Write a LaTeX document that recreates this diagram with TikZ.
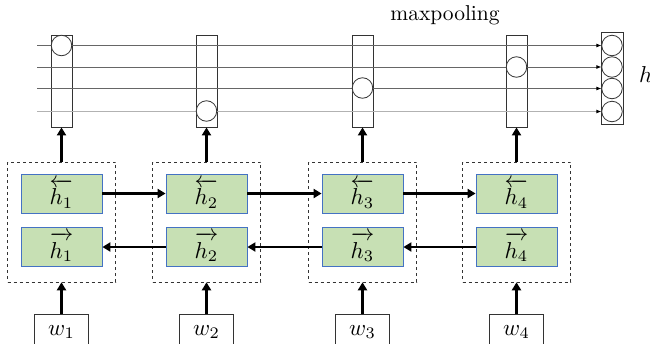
\documentclass[tikz,border=0pt]{standalone}
\usepackage{graphicx}
\usetikzlibrary{arrows.meta}
\newcommand{\mymath}[1]{\scalebox{2.3}{#1}}
\newcommand{\lvec}[1]{\overleftarrow{\rule{0pt}{8.6pt}#1}}
\newcommand{\rvec}[1]{\overrightarrow{\rule{0pt}{8.6pt}#1}}
\begin{document}
\begin{tikzpicture}[x=1pt,y=-1pt,
  colbox/.style={draw=black!80,line width=0.8pt,minimum width=21pt,minimum height=92pt,inner sep=0pt},
  cell/.style={circle,draw=black!80,fill=white,line width=0.8pt,minimum size=20.5pt,inner sep=0pt},
  feat/.style={draw=black!60,line width=0.8pt},
  featlight/.style={draw=black!30,line width=0.9pt},
  thinarrow/.style={-{Latex[length=5pt,width=4pt,color=black]}},
  dbox/.style={draw=black!80,dashed,line width=0.6pt,minimum width=108pt,minimum height=120pt,inner sep=0pt},
  hbox/.style={draw={rgb,255:red,68;green,114;blue,196},fill={rgb,255:red,199;green,224;blue,180},line width=0.8pt,minimum width=81pt,minimum height=39pt,inner sep=0pt},
  wbox/.style={draw=black!80,line width=0.8pt,minimum width=54pt,minimum height=36pt,inner sep=0pt},
  thick arrow/.style={line width=2.5pt,-{Triangle[length=8pt,width=9pt]}}
]
\useasboundingbox (0,0) rectangle (650,343);

% title
\node (title) at (445,15) {\scalebox{2.15}{maxpooling}};

% column boxes
\node[colbox] (c1) at (61.5,81) {};
\node[colbox] (c2) at (206.5,81) {};
\node[colbox] (c3) at (362.5,81) {};
\node[colbox] (c4) at (516.5,81) {};

% output column
\node[draw=black!80,line width=0.8pt,minimum width=22pt,minimum height=92pt,inner sep=0pt] (out) at (612,78.5) {};
\node[cell] (o1) at (612,45.5) {};
\node[cell] (o2) at (612,67) {};
\node[cell] (o3) at (612,88.5) {};
\node[cell] (o4) at (612,111.5) {};
\node[anchor=west,inner sep=0pt] (hl) at (639,75) {\mymath{$h$}};

% feature lines
\coordinate (s1) at (37,45.5);
\coordinate (s2) at (37,67);
\coordinate (s3) at (37,88.5);
\coordinate (s4) at (37,111.5);
\draw[feat,thinarrow] (s1) -- (o1.west);
\draw[feat,thinarrow] (s2) -- (o2.west);
\draw[feat,thinarrow] (s3) -- (o3.west);
\draw[featlight,thinarrow] (s4) -- (o4.west);

% max cells in columns
\node[cell] (m1) at (61.5,45.5) {};
\node[cell] (m2) at (206.5,111) {};
\node[cell] (m3) at (362.5,88) {};
\node[cell] (m4) at (516.5,67) {};

% dashed boxes
\node[dbox] (d1) at (61.5,222) {};
\node[dbox] (d2) at (206.5,222) {};
\node[dbox] (d3) at (362.5,222) {};
\node[dbox] (d4) at (516.5,222) {};

% hidden states
\node[hbox] (b1) at (61.5,193.5) {\mymath{$\lvec{h_1}$}};
\node[hbox] (b2) at (206.5,193.5) {\mymath{$\lvec{h_2}$}};
\node[hbox] (b3) at (362.5,193.5) {\mymath{$\lvec{h_3}$}};
\node[hbox] (b4) at (516.5,193.5) {\mymath{$\lvec{h_4}$}};
\node[hbox] (f1) at (61.5,247) {\mymath{$\rvec{h_1}$}};
\node[hbox] (f2) at (206.5,247) {\mymath{$\rvec{h_2}$}};
\node[hbox] (f3) at (362.5,247) {\mymath{$\rvec{h_3}$}};
\node[hbox] (f4) at (516.5,247) {\mymath{$\rvec{h_4}$}};

% words
\node[wbox] (w1) at (61.5,332) {\mymath{$w_1$}};
\node[wbox] (w2) at (206.5,332) {\mymath{$w_2$}};
\node[wbox] (w3) at (362.5,332) {\mymath{$w_3$}};
\node[wbox] (w4) at (516.5,332) {\mymath{$w_4$}};

% arrows
\foreach \i in {1,2,3,4}{
  \draw[thick arrow] (w\i.north) -- (d\i.south);
  \draw[thick arrow] (d\i.north) -- (c\i.south);
}
\draw[thick arrow] (b1.east) -- (b2.west);
\draw[thick arrow] (b2.east) -- (b3.west);
\draw[thick arrow] (b3.east) -- (b4.west);
\draw[thick arrow] (f2.west) -- (f1.east);
\draw[thick arrow] (f3.west) -- (f2.east);
\draw[thick arrow] (f4.west) -- (f3.east);
\end{tikzpicture}
\end{document}
